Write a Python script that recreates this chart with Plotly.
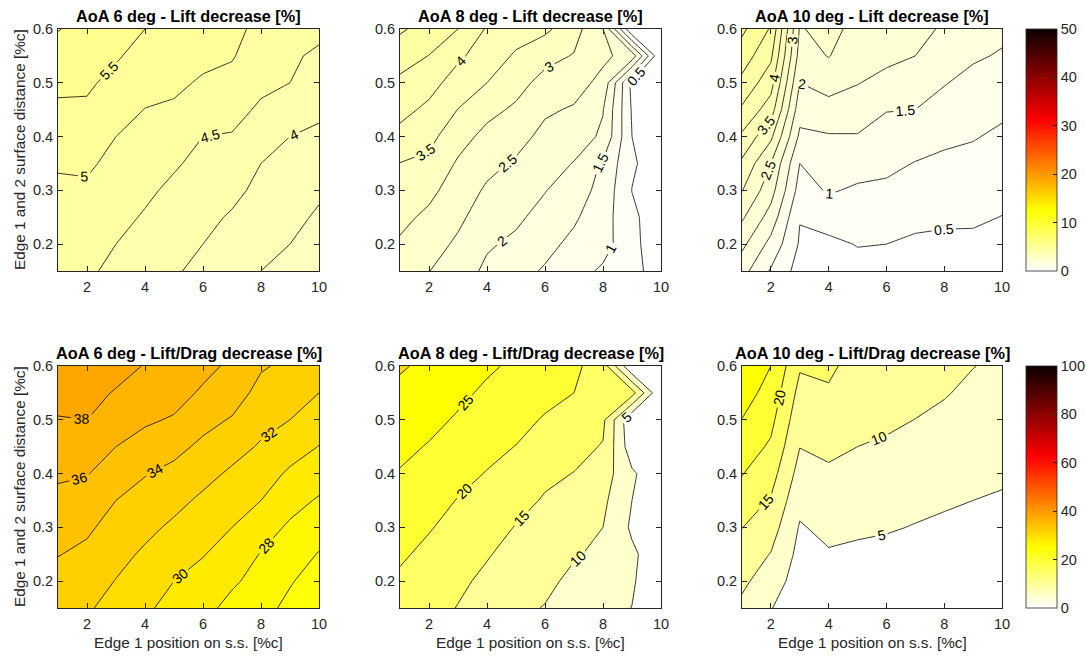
import numpy as np
import plotly.graph_objects as go

# ---------------- data (grid: x = edge 1 position, y = surface distance) ----------------
x_pos = [1, 2, 3, 4, 5, 6, 7, 8, 9, 10]
y_dist = [0.15, 0.2, 0.25, 0.3, 0.35, 0.4, 0.45, 0.5, 0.55, 0.6]

# each inner list is one column (fixed x), values listed for y = 0.15 ... 0.6
lift6_cols = [
    [4.72, 4.78, 4.85, 4.93, 5.04, 5.23, 5.42, 5.60, 5.80, 6.02],
    [4.58, 4.69, 4.81, 4.93, 5.07, 5.25, 5.43, 5.57, 5.70, 5.85],
    [4.38, 4.50, 4.62, 4.75, 4.88, 5.00, 5.18, 5.37, 5.55, 5.72],
    [4.24, 4.36, 4.46, 4.58, 4.71, 4.85, 4.99, 5.15, 5.33, 5.50],
    [4.05, 4.17, 4.30, 4.41, 4.55, 4.73, 4.93, 5.10, 5.25, 5.40],
    [3.88, 4.00, 4.12, 4.25, 4.38, 4.50, 4.72, 4.94, 5.12, 5.28],
    [3.70, 3.82, 3.95, 4.12, 4.29, 4.47, 4.65, 4.85, 5.04, 5.15],
    [3.50, 3.62, 3.75, 3.88, 4.00, 4.22, 4.43, 4.60, 4.72, 4.85],
    [3.38, 3.50, 3.62, 3.75, 3.87, 4.00, 4.25, 4.50, 4.56, 4.65],
    [3.22, 3.32, 3.44, 3.57, 3.74, 3.91, 4.09, 4.26, 4.43, 4.60],
]
lift8_cols = [
    [2.75, 2.94, 3.12, 3.31, 3.49, 3.85, 4.15, 4.40, 4.71, 5.07],
    [2.51, 2.70, 2.90, 3.12, 3.39, 3.64, 3.89, 4.18, 4.49, 4.80],
    [2.25, 2.42, 2.60, 2.77, 2.94, 3.19, 3.49, 3.78, 4.09, 4.50],
    [1.90, 2.06, 2.25, 2.43, 2.64, 2.86, 3.14, 3.50, 3.75, 3.95],
    [1.67, 1.90, 2.09, 2.26, 2.44, 2.67, 2.92, 3.18, 3.44, 3.70],
    [1.45, 1.64, 1.83, 2.02, 2.20, 2.37, 2.57, 2.83, 3.16, 3.60],
    [1.20, 1.38, 1.57, 1.75, 1.98, 2.21, 2.45, 2.70, 2.97, 3.20],
    [0.92, 1.19, 1.20, 1.33, 1.43, 1.93, 2.02, 2.36, 2.60, 2.50],
    [0.73, 0.65, 0.62, 0.49, 0.57, 0.50, 0.45, 0.35, 2.30, 0.00],
    [0.15, 0.15, 0.15, 0.12, 0.20, 0.10, 0.05, 0.00, 0.00, 0.00],
]
lift10_cols = [
    [1.68, 2.12, 2.57, 3.02, 3.40, 3.91, 4.42, 4.87, 5.26, 5.60],
    [0.95, 1.35, 1.80, 2.20, 2.50, 3.10, 3.75, 4.20, 4.60, 4.95],
    [0.30, 0.45, 0.52, 0.80, 1.00, 1.40, 1.70, 2.00, 2.30, 2.45],
    [0.30, 0.40, 0.70, 1.05, 1.26, 1.46, 1.83, 2.18, 2.52, 2.70],
    [0.35, 0.52, 0.73, 0.93, 1.20, 1.47, 1.75, 2.02, 2.20, 2.30],
    [0.38, 0.50, 0.70, 0.90, 1.12, 1.30, 1.52, 1.85, 2.12, 2.20],
    [0.32, 0.42, 0.62, 0.80, 0.98, 1.24, 1.50, 1.75, 2.00, 2.12],
    [0.30, 0.40, 0.58, 0.74, 0.90, 1.10, 1.30, 1.53, 1.75, 1.95],
    [0.30, 0.40, 0.57, 0.72, 0.87, 1.03, 1.20, 1.34, 1.57, 1.75],
    [0.30, 0.38, 0.49, 0.64, 0.78, 0.92, 1.08, 1.27, 1.45, 1.62],
]
ld6_cols = [
    [32.6, 33.3, 34.07, 34.8, 35.5, 36.3, 37.1, 37.9, 38.6, 39.3],
    [32.25, 32.95, 33.6, 34.3, 35.2, 36.1, 37.0, 38.0, 38.6, 39.2],
    [31.25, 31.93, 32.62, 33.3, 34.0, 35.0, 36.0, 36.93, 37.85, 38.7],
    [30.4, 31.0, 31.7, 32.5, 33.3, 34.1, 35.2, 36.3, 37.1, 37.9],
    [29.2, 30.0, 30.8, 31.65, 32.55, 33.5, 34.55, 35.8, 36.8, 37.6],
    [28.6, 29.3, 30.1, 30.9, 31.65, 32.6, 33.6, 34.6, 35.7, 36.6],
    [27.4, 28.3, 29.15, 30.0, 30.8, 31.7, 32.7, 33.85, 34.9, 35.6],
    [26.8, 27.3, 27.9, 28.9, 30.0, 30.9, 31.8, 32.6, 33.4, 34.2],
    [25.4, 26.2, 26.9, 27.7, 28.7, 29.7, 30.85, 32.0, 32.9, 33.6],
    [24.0, 24.9, 25.9, 26.8, 27.8, 28.9, 29.95, 31.0, 32.0, 32.9],
]
ld8_cols = [
    [17.9, 19.3, 20.6, 22.0, 23.3, 24.7, 26.1, 27.5, 28.9, 30.5],
    [16.9, 17.8, 19.0, 20.3, 21.8, 23.2, 24.7, 26.2, 27.6, 29.0],
    [14.8, 16.0, 17.3, 18.6, 19.8, 21.3, 22.9, 24.5, 26.0, 27.5],
    [12.5, 13.9, 15.4, 16.8, 18.3, 19.8, 21.2, 22.7, 24.2, 25.7],
    [11.0, 12.0, 13.2, 14.8, 16.4, 18.0, 19.9, 21.4, 22.8, 24.2],
    [9.8, 11.0, 12.2, 13.4, 14.6, 15.9, 17.5, 19.6, 21.3, 22.6],
    [7.6, 9.0, 10.4, 11.9, 13.3, 14.9, 16.4, 18.2, 20.0, 21.0],
    [6.2, 7.5, 9.07, 10.0, 11.0, 12.4, 14.7, 16.0, 17.5, 17.5],
    [4.95, 5.4, 5.85, 4.25, 5.0, 5.76, 1.9, 0.5, 17.0, 0.0],
    [2.5, 2.3, 2.0, 1.8, 1.6, 1.3, 1.0, 0.5, 0.0, 0.0],
]
ld10_cols = [
    [8.9, 11.0, 13.0, 15.1, 17.7, 20.2, 22.5, 24.9, 27.1, 28.5],
    [5.2, 7.4, 9.8, 12.2, 14.6, 17.0, 19.3, 21.3, 23.2, 25.0],
    [2.0, 2.8, 3.6, 4.6, 6.3, 8.2, 10.1, 11.8, 13.5, 15.5],
    [2.2, 3.0, 4.6, 6.2, 7.8, 9.3, 11.0, 12.8, 14.7, 15.5],
    [2.0, 2.9, 4.2, 5.7, 7.1, 8.6, 10.0, 11.5, 12.8, 14.0],
    [1.8, 2.6, 3.8, 5.4, 6.7, 8.1, 9.4, 10.8, 12.0, 13.0],
    [1.6, 2.4, 3.5, 4.8, 6.1, 7.3, 8.6, 9.95, 11.2, 12.3],
    [1.5, 2.2, 3.2, 4.3, 5.5, 6.6, 7.8, 9.1, 10.3, 11.3],
    [1.4, 2.0, 2.9, 3.9, 5.0, 6.1, 7.2, 8.2, 9.1, 10.1],
    [1.3, 1.9, 2.7, 3.6, 4.6, 5.6, 6.5, 7.4, 8.3, 9.2],
]

titles = [
    "AoA 6 deg - Lift decrease [%]", "AoA 8 deg - Lift decrease [%]", "AoA 10 deg - Lift decrease [%]",
    "AoA 6 deg - Lift/Drag decrease [%]", "AoA 8 deg - Lift/Drag decrease [%]", "AoA 10 deg - Lift/Drag decrease [%]",
]
# contour levels: (start, end, step)
levels = [(3.5, 6.0, 0.5), (0.5, 5.0, 0.5), (0.5, 5.5, 0.5),
          (26, 38, 2), (5, 30, 5), (5, 25, 5)]
color_max = [50, 50, 50, 100, 100, 100]
cbar_ticks_lift = [0, 10, 20, 30, 40, 50]
cbar_ticks_ld = [0, 20, 40, 60, 80, 100]
x_ticks = [2, 4, 6, 8, 10]
y_ticks = [0.2, 0.3, 0.4, 0.5, 0.6]
xlabel = "Edge 1 position on s.s. [%c]"
ylabel = "Edge 1 and 2 surface distance [%c]"

# ---------------- styling ----------------
W, H = 1086, 657
FONT = "Liberation Sans, Arial, Helvetica, sans-serif"
AX = "#262626"
TICK_SIZE = 14.5
LABEL_SIZE = 15.3
TITLE_SIZE = 16.3


def hot_r(v):
    """MATLAB flipud(hot): 0 -> white, 1 -> black."""
    t = 1.0 - min(max(v, 0.0), 1.0)
    r = min(1.0, t / 0.375)
    g = min(1.0, max(0.0, (t - 0.375) / 0.375))
    b = min(1.0, max(0.0, (t - 0.75) / 0.25))
    r = max(r, 0.04)
    return "rgb(%d,%d,%d)" % (round(255 * r), round(255 * g), round(255 * b))


def band_scale(start, end, step, cmax):
    nc = int(round((end - start) / step)) + 1
    scale = []
    for k in range(nc + 1):
        lower = start + (k - 1) * step
        if k == 0:
            lower = max(0.0, start - step)
        scale.append([k / nc, hot_r(lower / cmax)])
    return scale


cbar_scale = [[0.0, "rgb(255,255,255)"], [0.25, "rgb(255,255,0)"],
              [0.625, "rgb(255,0,0)"], [1.0, "rgb(10,0,0)"]]

col_px = [(58, 319), (400, 661), (742, 1002)]
row_px = [(29, 271), (366, 608)]

all_cols = [lift6_cols, lift8_cols, lift10_cols, ld6_cols, ld8_cols, ld10_cols]

fig = go.Figure()
layout = dict(width=W, height=H, margin=dict(l=0, r=0, t=0, b=0, autoexpand=False),
              paper_bgcolor="white", plot_bgcolor="white", showlegend=False,
              font=dict(family=FONT, color=AX))
annotations = []

for i in range(6):
    r, c = divmod(i, 3)
    n = i + 1
    sfx = "" if n == 1 else str(n)
    z = np.array(all_cols[i]).T.tolist()
    s, e, st = levels[i]
    fig.add_trace(go.Contour(
        x=x_pos, y=y_dist, z=z, xaxis="x" + sfx, yaxis="y" + sfx,
        autocontour=False,
        contours=dict(start=s, end=e, size=st, coloring="fill", showlabels=True,
                      labelfont=dict(size=14, color="black", family=FONT)),
        line=dict(color="black", width=0.8, smoothing=0),
        colorscale=band_scale(s, e, st, color_max[i]), showscale=False,
        hoverinfo="skip"))
    x0, x1 = col_px[c]
    y0, y1 = row_px[r]
    layout["xaxis" + sfx] = dict(
        domain=[x0 / W, x1 / W], anchor="y" + sfx, range=[1, 10], tickvals=x_ticks,
        ticks="inside", ticklen=5, tickcolor=AX, tickwidth=0.8,
        showline=True, linecolor=AX, linewidth=0.8, mirror="ticks",
        showgrid=False, zeroline=False, ticklabelstandoff=3,
        tickfont=dict(size=TICK_SIZE, color=AX, family=FONT))
    layout["yaxis" + sfx] = dict(
        domain=[1 - y1 / H, 1 - y0 / H], anchor="x" + sfx, range=[0.15, 0.6],
        tickvals=y_ticks, tickformat=".1f",
        ticks="inside", ticklen=5, tickcolor=AX, tickwidth=0.8,
        showline=True, linecolor=AX, linewidth=0.8, mirror="ticks",
        showgrid=False, zeroline=False, ticklabelstandoff=1,
        tickfont=dict(size=TICK_SIZE, color=AX, family=FONT))
    # title
    annotations.append(dict(text="<b>" + titles[i] + "</b>", xref="paper", yref="paper",
                            x=(x0 + x1) / 2 / W, y=1 - (y0 - 13) / H, xanchor="center",
                            yanchor="middle", showarrow=False,
                            font=dict(size=TITLE_SIZE, color="black", family=FONT)))
    if c == 0:
        annotations.append(dict(text=ylabel, xref="paper", yref="paper", x=19 / W,
                                y=1 - (y0 + y1) / 2 / H, textangle=-90, xanchor="center",
                                yanchor="middle", showarrow=False,
                                font=dict(size=LABEL_SIZE, color=AX, family=FONT)))
    if r == 1:
        annotations.append(dict(text=xlabel, xref="paper", yref="paper",
                                x=(x0 + x1) / 2 / W, y=1 - 642 / H, xanchor="center",
                                yanchor="middle", showarrow=False,
                                font=dict(size=LABEL_SIZE, color=AX, family=FONT)))

# colorbars
for r, (cmax, ticks) in enumerate([(50, cbar_ticks_lift), (100, cbar_ticks_ld)]):
    y0, y1 = row_px[r]
    sfx = str(3 + 3 * r)
    fig.add_trace(go.Scatter(
        x=[-5], y=[-5], xaxis="x" + sfx, yaxis="y" + sfx, mode="markers",
        marker=dict(size=1, color=[0], cmin=0, cmax=cmax, colorscale=cbar_scale,
                    showscale=True,
                    colorbar=dict(x=1026 / W, xanchor="left", y=1 - y0 / H, yanchor="top",
                                  len=(y1 - y0) / H, lenmode="fraction",
                                  thickness=31, thicknessmode="pixels", xpad=0, ypad=0,
                                  outlinewidth=0.8, outlinecolor=AX,
                                  ticks="inside", ticklen=4, tickcolor=AX, tickvals=ticks,
                                  tickfont=dict(size=TICK_SIZE, color=AX, family=FONT))),
        showlegend=False, hoverinfo="skip"))

layout["annotations"] = annotations
fig.update_layout(**layout)
fig.write_html("out.html")
